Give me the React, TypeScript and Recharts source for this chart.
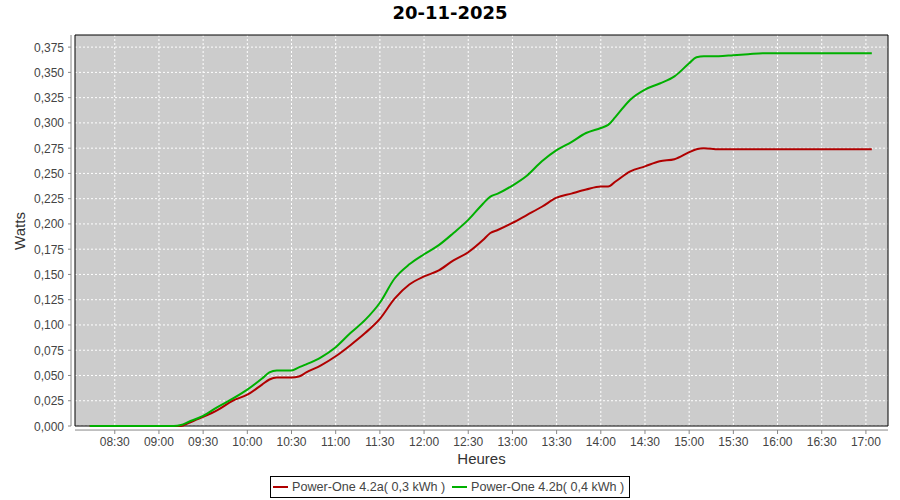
import { LineChart, Line, XAxis, YAxis, CartesianGrid, ReferenceArea, ReferenceLine } from "recharts";

const times = [
  "08:13", "08:30", "08:50", "09:10", "09:15", "09:20", "09:30", "09:40", "09:50", "10:00",
  "10:10", "10:15", "10:20", "10:30", "10:35", "10:40", "10:50", "11:00", "11:10", "11:20",
  "11:30", "11:40", "11:50", "12:00", "12:10", "12:20", "12:30", "12:40", "12:45", "12:50",
  "13:00", "13:10", "13:20", "13:30", "13:40", "13:50", "14:00", "14:05", "14:10", "14:20",
  "14:30", "14:40", "14:50", "15:00", "15:05", "15:10", "15:20", "15:30", "15:40", "15:50",
  "16:00", "16:30", "17:04",
];

const powerOneA = [
  0, 0, 0, 0, 0, 0.003, 0.009, 0.016, 0.025, 0.031,
  0.041, 0.046, 0.048, 0.048, 0.049, 0.053, 0.06, 0.069, 0.08, 0.092,
  0.106, 0.126, 0.14, 0.148, 0.154, 0.164, 0.172, 0.184, 0.191, 0.194,
  0.201, 0.209, 0.217, 0.226, 0.23, 0.234, 0.237, 0.237, 0.242, 0.252,
  0.257, 0.262, 0.264, 0.271, 0.274, 0.275, 0.274, 0.274, 0.274, 0.274,
  0.274, 0.274, 0.274,
];

const powerOneB = [
  0, 0, 0, 0, 0.001, 0.004, 0.01, 0.019, 0.027, 0.036,
  0.047, 0.053, 0.055, 0.055, 0.058, 0.061, 0.068, 0.078, 0.092, 0.105,
  0.122, 0.146, 0.16, 0.17, 0.179, 0.191, 0.204, 0.22, 0.227, 0.23,
  0.238, 0.248, 0.262, 0.273, 0.281, 0.29, 0.295, 0.298, 0.306, 0.323,
  0.333, 0.339, 0.346, 0.359, 0.365, 0.366, 0.366, 0.367, 0.368, 0.369,
  0.369, 0.369, 0.369,
];

const xTickLabels = [
  "08:30", "09:00", "09:30", "10:00", "10:30", "11:00", "11:30", "12:00", "12:30",
  "13:00", "13:30", "14:00", "14:30", "15:00", "15:30", "16:00", "16:30", "17:00",
];

const yTicks = [0, 0.025, 0.05, 0.075, 0.1, 0.125, 0.15, 0.175, 0.2, 0.225, 0.25, 0.275, 0.3, 0.325, 0.35, 0.375];

const xStart = "08:03";
const xEnd = "17:15";
const yMax = 0.387;

const toMin = (s: string) => {
  const [h, m] = s.split(":").map(Number);
  return h * 60 + m;
};
const fmtMin = (v: number) => {
  const h = Math.floor(v / 60);
  const m = Math.round(v - h * 60);
  return `${String(h).padStart(2, "0")}:${String(m).padStart(2, "0")}`;
};
const fmtWatts = (v: number) => v.toFixed(3).replace(".", ",");

const data = times.map((t, i) => ({ t: toMin(t), a: powerOneA[i], b: powerOneB[i] }));

const RED = "#b00000";
const GREEN = "#00b000";
const AXIS = "#888888";
const TEXT = "#444444";

function YTick({ x, y, payload }: any) {
  return (
    <g>
      <line x1={x - 7} x2={x - 4} y1={y} y2={y} stroke={AXIS} />
      <text x={x - 11} y={y} dy={4.5} textAnchor="end" fontSize={12} fill={TEXT}>
        {fmtWatts(payload.value)}
      </text>
    </g>
  );
}

function XTick({ x, y, payload }: any) {
  return (
    <g>
      <line x1={x} x2={x} y1={y + 4} y2={y + 8} stroke={AXIS} />
      <text x={x} y={y + 20} textAnchor="middle" fontSize={12} fill={TEXT}>
        {fmtMin(payload.value)}
      </text>
    </g>
  );
}

export default function App() {
  const x0 = toMin(xStart);
  const x1 = toMin(xEnd);
  return (
    <div
      style={{
        position: "absolute",
        left: 0,
        top: 0,
        width: 900,
        height: 500,
        background: "#fff",
        fontFamily: "'Liberation Sans', Arial, sans-serif",
      }}
    >
      <div
        style={{
          position: "absolute",
          left: 0,
          top: 0,
          width: 900,
          textAlign: "center",
          fontFamily: "'DejaVu Sans', sans-serif",
          fontWeight: "bold",
          fontSize: 18,
          lineHeight: "26px",
          color: "#000",
        }}
      >
        20-11-2025
      </div>
      <LineChart
        width={900}
        height={500}
        data={data}
        margin={{ top: 35, right: 12, bottom: 34, left: 0 }}
      >
        <CartesianGrid
          fill="#cccccc"
          fillOpacity={1}
          stroke="#ffffff"
          strokeDasharray="2 2"
          horizontalValues={yTicks}
          verticalValues={xTickLabels.map(toMin)}
        />
        <XAxis
          dataKey="t"
          type="number"
          domain={[x0, x1]}
          ticks={xTickLabels.map(toMin)}
          height={40}
          tickSize={0}
          tickMargin={0}
          axisLine={false}
          tickLine={false}
          tick={<XTick />}
          interval={0}
        />
        <YAxis
          type="number"
          domain={[0, yMax]}
          ticks={yTicks}
          width={75}
          tickSize={0}
          tickMargin={0}
          axisLine={false}
          tickLine={false}
          tick={<YTick />}
          interval={0}
        />
        <ReferenceLine x={x0 - 2.7} stroke={AXIS} ifOverflow="visible" />
        <ReferenceLine y={-0.004} stroke={AXIS} ifOverflow="visible" />
        <Line
          type="monotone"
          dataKey="a"
          stroke={RED}
          strokeWidth={2}
          dot={false}
          isAnimationActive={false}
        />
        <Line
          type="monotone"
          dataKey="b"
          stroke={GREEN}
          strokeWidth={2}
          dot={false}
          isAnimationActive={false}
        />
        <ReferenceArea x1={x0} x2={x1} y1={0} y2={yMax} fill="none" stroke="#000" strokeWidth={1} />
      </LineChart>
      <div
        style={{
          position: "absolute",
          left: 0,
          top: 221,
          width: 40,
          height: 20,
          fontSize: 15,
          color: "#333",
          textAlign: "center",
          lineHeight: "20px",
          transform: "rotate(-90deg)",
        }}
      >
        Watts
      </div>
      <div
        style={{
          position: "absolute",
          left: 75,
          top: 450,
          width: 813,
          textAlign: "center",
          fontSize: 15,
          color: "#333",
          lineHeight: "18px",
        }}
      >
        Heures
      </div>
      <div
        style={{
          position: "absolute",
          left: 270,
          top: 476,
          width: 360,
          height: 22,
          border: "1px solid #000",
          boxSizing: "border-box",
          fontSize: 12.6,
          color: TEXT,
        }}
      >
        <div style={{ position: "absolute", left: 2, top: 9, width: 15, height: 2, background: RED }} />
        <div style={{ position: "absolute", left: 21, top: 3, lineHeight: "14px", whiteSpace: "pre" }}>
          Power-One 4.2a( 0,3 kWh )
        </div>
        <div style={{ position: "absolute", left: 181, top: 9, width: 15, height: 2, background: GREEN }} />
        <div style={{ position: "absolute", left: 200, top: 3, lineHeight: "14px", whiteSpace: "pre" }}>
          Power-One 4.2b( 0,4 kWh )
        </div>
      </div>
    </div>
  );
}
